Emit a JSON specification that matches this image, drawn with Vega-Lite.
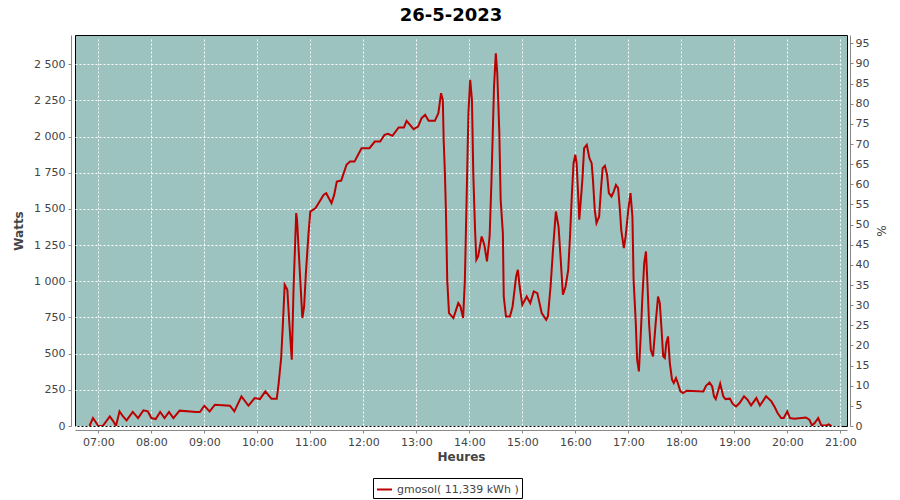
{
  "$schema": "https://vega.github.io/schema/vega-lite/v6.json",
  "width": 772,
  "height": 391,
  "autosize": {"type": "none"},
  "padding": {"left": 75, "top": 35, "right": 53, "bottom": 74},
  "background": "white",
  "title": {"text": "26-5-2023", "font": "DejaVu Sans", "fontSize": 18, "fontWeight": "bold", "color": "black", "anchor": "middle", "offset": 10, "dx": -10},
  "config": {
    "view": {"fill": "#9DC3C1", "stroke": "black", "strokeWidth": 1},
    "axis": {"domainColor": "#888888", "tickColor": "#888888", "labelColor": "#444444", "labelFont": "DejaVu Sans", "labelFontSize": 11, "titleFont": "DejaVu Sans", "titleFontSize": 12, "titleFontWeight": "bold", "titleColor": "#444444", "tickSize": 3, "gridColor": "white", "gridDash": [2, 2], "gridOpacity": 1, "gridWidth": 1, "offset": 4}
  },
  "layer": [
    {
      "data": {
        "values": [
          {"t": "2023-05-26T06:50:00", "w": 0}, {"t": "2023-05-26T06:54:00", "w": 55}, {"t": "2023-05-26T07:00:00", "w": 0}, {"t": "2023-05-26T07:05:00", "w": 0},
          {"t": "2023-05-26T07:13:00", "w": 66}, {"t": "2023-05-26T07:17:00", "w": 32}, {"t": "2023-05-26T07:20:00", "w": 0}, {"t": "2023-05-26T07:24:00", "w": 101},
          {"t": "2023-05-26T07:28:00", "w": 66}, {"t": "2023-05-26T07:32:00", "w": 39}, {"t": "2023-05-26T07:39:00", "w": 97}, {"t": "2023-05-26T07:45:00", "w": 55},
          {"t": "2023-05-26T07:51:00", "w": 108}, {"t": "2023-05-26T07:56:00", "w": 101}, {"t": "2023-05-26T08:00:00", "w": 55}, {"t": "2023-05-26T08:05:00", "w": 48},
          {"t": "2023-05-26T08:10:00", "w": 97}, {"t": "2023-05-26T08:15:00", "w": 55}, {"t": "2023-05-26T08:20:00", "w": 97}, {"t": "2023-05-26T08:25:00", "w": 55},
          {"t": "2023-05-26T08:32:00", "w": 106}, {"t": "2023-05-26T08:51:00", "w": 97}, {"t": "2023-05-26T08:55:00", "w": 97}, {"t": "2023-05-26T09:00:00", "w": 140},
          {"t": "2023-05-26T09:06:00", "w": 101}, {"t": "2023-05-26T09:12:00", "w": 147}, {"t": "2023-05-26T09:29:00", "w": 140}, {"t": "2023-05-26T09:34:00", "w": 101},
          {"t": "2023-05-26T09:42:00", "w": 205}, {"t": "2023-05-26T09:50:00", "w": 140}, {"t": "2023-05-26T09:57:00", "w": 193}, {"t": "2023-05-26T10:03:00", "w": 186},
          {"t": "2023-05-26T10:09:00", "w": 239}, {"t": "2023-05-26T10:16:00", "w": 189}, {"t": "2023-05-26T10:22:00", "w": 189}, {"t": "2023-05-26T10:24:00", "w": 285},
          {"t": "2023-05-26T10:27:00", "w": 470}, {"t": "2023-05-26T10:29:00", "w": 711}, {"t": "2023-05-26T10:31:00", "w": 976}, {"t": "2023-05-26T10:34:00", "w": 941},
          {"t": "2023-05-26T10:36:00", "w": 734}, {"t": "2023-05-26T10:39:00", "w": 458}, {"t": "2023-05-26T10:41:00", "w": 941}, {"t": "2023-05-26T10:44:00", "w": 1471},
          {"t": "2023-05-26T10:45:00", "w": 1425}, {"t": "2023-05-26T10:48:00", "w": 1079}, {"t": "2023-05-26T10:51:00", "w": 746}, {"t": "2023-05-26T10:53:00", "w": 826},
          {"t": "2023-05-26T10:55:00", "w": 1057}, {"t": "2023-05-26T10:58:00", "w": 1333}, {"t": "2023-05-26T11:00:00", "w": 1482}, {"t": "2023-05-26T11:06:00", "w": 1506},
          {"t": "2023-05-26T11:15:00", "w": 1597}, {"t": "2023-05-26T11:18:00", "w": 1609}, {"t": "2023-05-26T11:24:00", "w": 1540}, {"t": "2023-05-26T11:27:00", "w": 1597},
          {"t": "2023-05-26T11:30:00", "w": 1689}, {"t": "2023-05-26T11:35:00", "w": 1696}, {"t": "2023-05-26T11:41:00", "w": 1805}, {"t": "2023-05-26T11:45:00", "w": 1827},
          {"t": "2023-05-26T11:50:00", "w": 1827}, {"t": "2023-05-26T11:58:00", "w": 1920}, {"t": "2023-05-26T12:07:00", "w": 1920}, {"t": "2023-05-26T12:13:00", "w": 1966},
          {"t": "2023-05-26T12:19:00", "w": 1966}, {"t": "2023-05-26T12:24:00", "w": 2012}, {"t": "2023-05-26T12:28:00", "w": 2019}, {"t": "2023-05-26T12:33:00", "w": 2005},
          {"t": "2023-05-26T12:40:00", "w": 2063}, {"t": "2023-05-26T12:46:00", "w": 2063}, {"t": "2023-05-26T12:49:00", "w": 2109}, {"t": "2023-05-26T12:57:00", "w": 2051},
          {"t": "2023-05-26T13:02:00", "w": 2069}, {"t": "2023-05-26T13:06:00", "w": 2127}, {"t": "2023-05-26T13:10:00", "w": 2150}, {"t": "2023-05-26T13:14:00", "w": 2109},
          {"t": "2023-05-26T13:21:00", "w": 2109}, {"t": "2023-05-26T13:25:00", "w": 2162}, {"t": "2023-05-26T13:28:00", "w": 2300}, {"t": "2023-05-26T13:30:00", "w": 2254},
          {"t": "2023-05-26T13:31:00", "w": 1977}, {"t": "2023-05-26T13:32:30", "w": 1724}, {"t": "2023-05-26T13:33:40", "w": 1448}, {"t": "2023-05-26T13:35:00", "w": 1010},
          {"t": "2023-05-26T13:37:00", "w": 780}, {"t": "2023-05-26T13:42:00", "w": 746}, {"t": "2023-05-26T13:47:30", "w": 849}, {"t": "2023-05-26T13:50:00", "w": 826},
          {"t": "2023-05-26T13:53:00", "w": 746}, {"t": "2023-05-26T13:55:00", "w": 1010}, {"t": "2023-05-26T13:57:00", "w": 1586}, {"t": "2023-05-26T13:59:00", "w": 2162},
          {"t": "2023-05-26T14:01:00", "w": 2392}, {"t": "2023-05-26T14:03:00", "w": 2254}, {"t": "2023-05-26T14:04:30", "w": 1747}, {"t": "2023-05-26T14:06:30", "w": 1356},
          {"t": "2023-05-26T14:08:00", "w": 1149}, {"t": "2023-05-26T14:10:00", "w": 1172}, {"t": "2023-05-26T14:14:00", "w": 1310}, {"t": "2023-05-26T14:17:00", "w": 1252},
          {"t": "2023-05-26T14:20:00", "w": 1137}, {"t": "2023-05-26T14:23:00", "w": 1310}, {"t": "2023-05-26T14:25:00", "w": 1678}, {"t": "2023-05-26T14:28:00", "w": 2345},
          {"t": "2023-05-26T14:30:00", "w": 2576}, {"t": "2023-05-26T14:31:40", "w": 2438}, {"t": "2023-05-26T14:34:00", "w": 2024}, {"t": "2023-05-26T14:35:30", "w": 1563},
          {"t": "2023-05-26T14:38:00", "w": 1333}, {"t": "2023-05-26T14:39:00", "w": 895}, {"t": "2023-05-26T14:41:30", "w": 757}, {"t": "2023-05-26T14:46:00", "w": 757},
          {"t": "2023-05-26T14:49:00", "w": 826}, {"t": "2023-05-26T14:53:00", "w": 1033}, {"t": "2023-05-26T14:55:00", "w": 1079}, {"t": "2023-05-26T14:57:00", "w": 964},
          {"t": "2023-05-26T15:00:00", "w": 837}, {"t": "2023-05-26T15:05:00", "w": 895}, {"t": "2023-05-26T15:09:00", "w": 849}, {"t": "2023-05-26T15:13:00", "w": 930},
          {"t": "2023-05-26T15:17:00", "w": 918}, {"t": "2023-05-26T15:22:00", "w": 780}, {"t": "2023-05-26T15:27:00", "w": 734}, {"t": "2023-05-26T15:29:00", "w": 757},
          {"t": "2023-05-26T15:32:00", "w": 964}, {"t": "2023-05-26T15:35:00", "w": 1240}, {"t": "2023-05-26T15:38:00", "w": 1482}, {"t": "2023-05-26T15:41:00", "w": 1379},
          {"t": "2023-05-26T15:43:00", "w": 1195}, {"t": "2023-05-26T15:46:00", "w": 907}, {"t": "2023-05-26T15:49:00", "w": 964}, {"t": "2023-05-26T15:52:00", "w": 1079},
          {"t": "2023-05-26T15:54:00", "w": 1310}, {"t": "2023-05-26T15:56:00", "w": 1586}, {"t": "2023-05-26T15:58:00", "w": 1816}, {"t": "2023-05-26T16:00:00", "w": 1874},
          {"t": "2023-05-26T16:01:30", "w": 1816}, {"t": "2023-05-26T16:03:30", "w": 1563}, {"t": "2023-05-26T16:04:30", "w": 1425}, {"t": "2023-05-26T16:06:00", "w": 1540},
          {"t": "2023-05-26T16:08:00", "w": 1701}, {"t": "2023-05-26T16:10:00", "w": 1920}, {"t": "2023-05-26T16:13:00", "w": 1943}, {"t": "2023-05-26T16:16:00", "w": 1851},
          {"t": "2023-05-26T16:18:30", "w": 1816}, {"t": "2023-05-26T16:20:00", "w": 1701}, {"t": "2023-05-26T16:22:00", "w": 1494}, {"t": "2023-05-26T16:24:00", "w": 1402},
          {"t": "2023-05-26T16:27:00", "w": 1448}, {"t": "2023-05-26T16:29:00", "w": 1632}, {"t": "2023-05-26T16:31:00", "w": 1782}, {"t": "2023-05-26T16:33:30", "w": 1798},
          {"t": "2023-05-26T16:36:00", "w": 1735}, {"t": "2023-05-26T16:38:00", "w": 1609}, {"t": "2023-05-26T16:41:00", "w": 1586}, {"t": "2023-05-26T16:43:30", "w": 1620},
          {"t": "2023-05-26T16:46:00", "w": 1666}, {"t": "2023-05-26T16:48:30", "w": 1644}, {"t": "2023-05-26T16:50:30", "w": 1494}, {"t": "2023-05-26T16:52:00", "w": 1356},
          {"t": "2023-05-26T16:55:00", "w": 1229}, {"t": "2023-05-26T16:57:00", "w": 1310}, {"t": "2023-05-26T17:00:00", "w": 1494}, {"t": "2023-05-26T17:02:30", "w": 1609},
          {"t": "2023-05-26T17:04:40", "w": 1448}, {"t": "2023-05-26T17:06:00", "w": 1010}, {"t": "2023-05-26T17:08:30", "w": 711}, {"t": "2023-05-26T17:10:00", "w": 458},
          {"t": "2023-05-26T17:12:00", "w": 377}, {"t": "2023-05-26T17:14:00", "w": 619}, {"t": "2023-05-26T17:16:00", "w": 895}, {"t": "2023-05-26T17:18:00", "w": 1126},
          {"t": "2023-05-26T17:20:00", "w": 1206}, {"t": "2023-05-26T17:21:40", "w": 988}, {"t": "2023-05-26T17:23:30", "w": 711}, {"t": "2023-05-26T17:25:30", "w": 527},
          {"t": "2023-05-26T17:28:00", "w": 481}, {"t": "2023-05-26T17:31:00", "w": 711}, {"t": "2023-05-26T17:33:40", "w": 895}, {"t": "2023-05-26T17:35:40", "w": 849},
          {"t": "2023-05-26T17:37:40", "w": 665}, {"t": "2023-05-26T17:39:30", "w": 481}, {"t": "2023-05-26T17:41:20", "w": 470}, {"t": "2023-05-26T17:43:00", "w": 573},
          {"t": "2023-05-26T17:45:00", "w": 619}, {"t": "2023-05-26T17:47:00", "w": 435}, {"t": "2023-05-26T17:49:30", "w": 320}, {"t": "2023-05-26T17:51:30", "w": 297},
          {"t": "2023-05-26T17:54:00", "w": 331}, {"t": "2023-05-26T17:56:00", "w": 297}, {"t": "2023-05-26T17:59:00", "w": 239}, {"t": "2023-05-26T18:02:00", "w": 228},
          {"t": "2023-05-26T18:06:00", "w": 244}, {"t": "2023-05-26T18:25:00", "w": 239}, {"t": "2023-05-26T18:28:00", "w": 278}, {"t": "2023-05-26T18:32:00", "w": 301},
          {"t": "2023-05-26T18:35:00", "w": 273}, {"t": "2023-05-26T18:37:00", "w": 205}, {"t": "2023-05-26T18:39:00", "w": 186}, {"t": "2023-05-26T18:41:30", "w": 239},
          {"t": "2023-05-26T18:44:00", "w": 292}, {"t": "2023-05-26T18:47:30", "w": 205}, {"t": "2023-05-26T18:50:00", "w": 186}, {"t": "2023-05-26T18:55:00", "w": 189},
          {"t": "2023-05-26T18:58:00", "w": 154}, {"t": "2023-05-26T19:02:00", "w": 135}, {"t": "2023-05-26T19:06:00", "w": 159}, {"t": "2023-05-26T19:11:00", "w": 205},
          {"t": "2023-05-26T19:15:00", "w": 182}, {"t": "2023-05-26T19:19:00", "w": 142}, {"t": "2023-05-26T19:25:00", "w": 193}, {"t": "2023-05-26T19:29:00", "w": 142},
          {"t": "2023-05-26T19:36:00", "w": 205}, {"t": "2023-05-26T19:42:00", "w": 170}, {"t": "2023-05-26T19:46:00", "w": 128}, {"t": "2023-05-26T19:49:00", "w": 90},
          {"t": "2023-05-26T19:53:00", "w": 55}, {"t": "2023-05-26T19:56:00", "w": 55}, {"t": "2023-05-26T20:00:00", "w": 101}, {"t": "2023-05-26T20:03:00", "w": 55},
          {"t": "2023-05-26T20:08:00", "w": 50}, {"t": "2023-05-26T20:21:00", "w": 59}, {"t": "2023-05-26T20:25:00", "w": 43}, {"t": "2023-05-26T20:28:00", "w": 4},
          {"t": "2023-05-26T20:31:00", "w": 21}, {"t": "2023-05-26T20:35:00", "w": 55}, {"t": "2023-05-26T20:38:30", "w": 4}, {"t": "2023-05-26T20:44:00", "w": 4},
          {"t": "2023-05-26T20:47:00", "w": 11}, {"t": "2023-05-26T20:50:00", "w": 0}
        ]
      },
      "mark": {"type": "line", "strokeWidth": 2, "interpolate": "linear", "clip": true},
      "encoding": {
        "x": {
          "field": "t", "type": "temporal",
          "scale": {"domain": [{"year": 2023, "month": 5, "date": 26, "hours": 6, "minutes": 33, "seconds": 36}, {"year": 2023, "month": 5, "date": 26, "hours": 21, "minutes": 7, "seconds": 36}]},
          "axis": {"title": "Heures", "format": "%H:%M", "values": [
            {"year": 2023, "month": 5, "date": 26, "hours": 7}, {"year": 2023, "month": 5, "date": 26, "hours": 8},
            {"year": 2023, "month": 5, "date": 26, "hours": 9}, {"year": 2023, "month": 5, "date": 26, "hours": 10},
            {"year": 2023, "month": 5, "date": 26, "hours": 11}, {"year": 2023, "month": 5, "date": 26, "hours": 12},
            {"year": 2023, "month": 5, "date": 26, "hours": 13}, {"year": 2023, "month": 5, "date": 26, "hours": 14},
            {"year": 2023, "month": 5, "date": 26, "hours": 15}, {"year": 2023, "month": 5, "date": 26, "hours": 16},
            {"year": 2023, "month": 5, "date": 26, "hours": 17}, {"year": 2023, "month": 5, "date": 26, "hours": 18},
            {"year": 2023, "month": 5, "date": 26, "hours": 19}, {"year": 2023, "month": 5, "date": 26, "hours": 20},
            {"year": 2023, "month": 5, "date": 26, "hours": 21}], "labelPadding": 3, "titlePadding": 4, "labelFlush": false, "labelOverlap": false}
        },
        "y": {
          "field": "w", "type": "quantitative",
          "scale": {"domain": [0, 2702], "nice": false},
          "axis": {"title": "Watts", "values": [0, 250, 500, 750, 1000, 1250, 1500, 1750, 2000, 2250, 2500], "labelExpr": "replace(format(datum.value, ','), ',', ' ')", "labelPadding": 3, "titlePadding": 8}
        },
        "color": {
          "datum": "gmosol( 11,339 kWh )",
          "type": "nominal",
          "scale": {"range": ["#BB0000"]},
          "legend": {"title": null, "orient": "none", "legendX": 298, "legendY": 443, "symbolType": "stroke", "symbolStrokeWidth": 2, "symbolSize": 225, "strokeColor": "black", "padding": 3, "labelFont": "DejaVu Sans", "labelFontSize": 11, "labelColor": "#444444", "fillColor": "white"}
        }
      }
    },
    {
      "data": {"values": [{"pct": 0}, {"pct": 95}]},
      "mark": {"type": "point", "opacity": 0},
      "encoding": {
        "y": {
          "field": "pct", "type": "quantitative",
          "scale": {"domain": [0, 97.07], "nice": false},
          "axis": {"title": "%", "orient": "right", "grid": false, "values": [0, 5, 10, 15, 20, 25, 30, 35, 40, 45, 50, 55, 60, 65, 70, 75, 80, 85, 90, 95], "offset": 3, "labelPadding": 2, "titlePadding": 5, "titleFontWeight": "normal"}
        }
      }
    }
  ],
  "resolve": {"scale": {"y": "independent"}}
}
